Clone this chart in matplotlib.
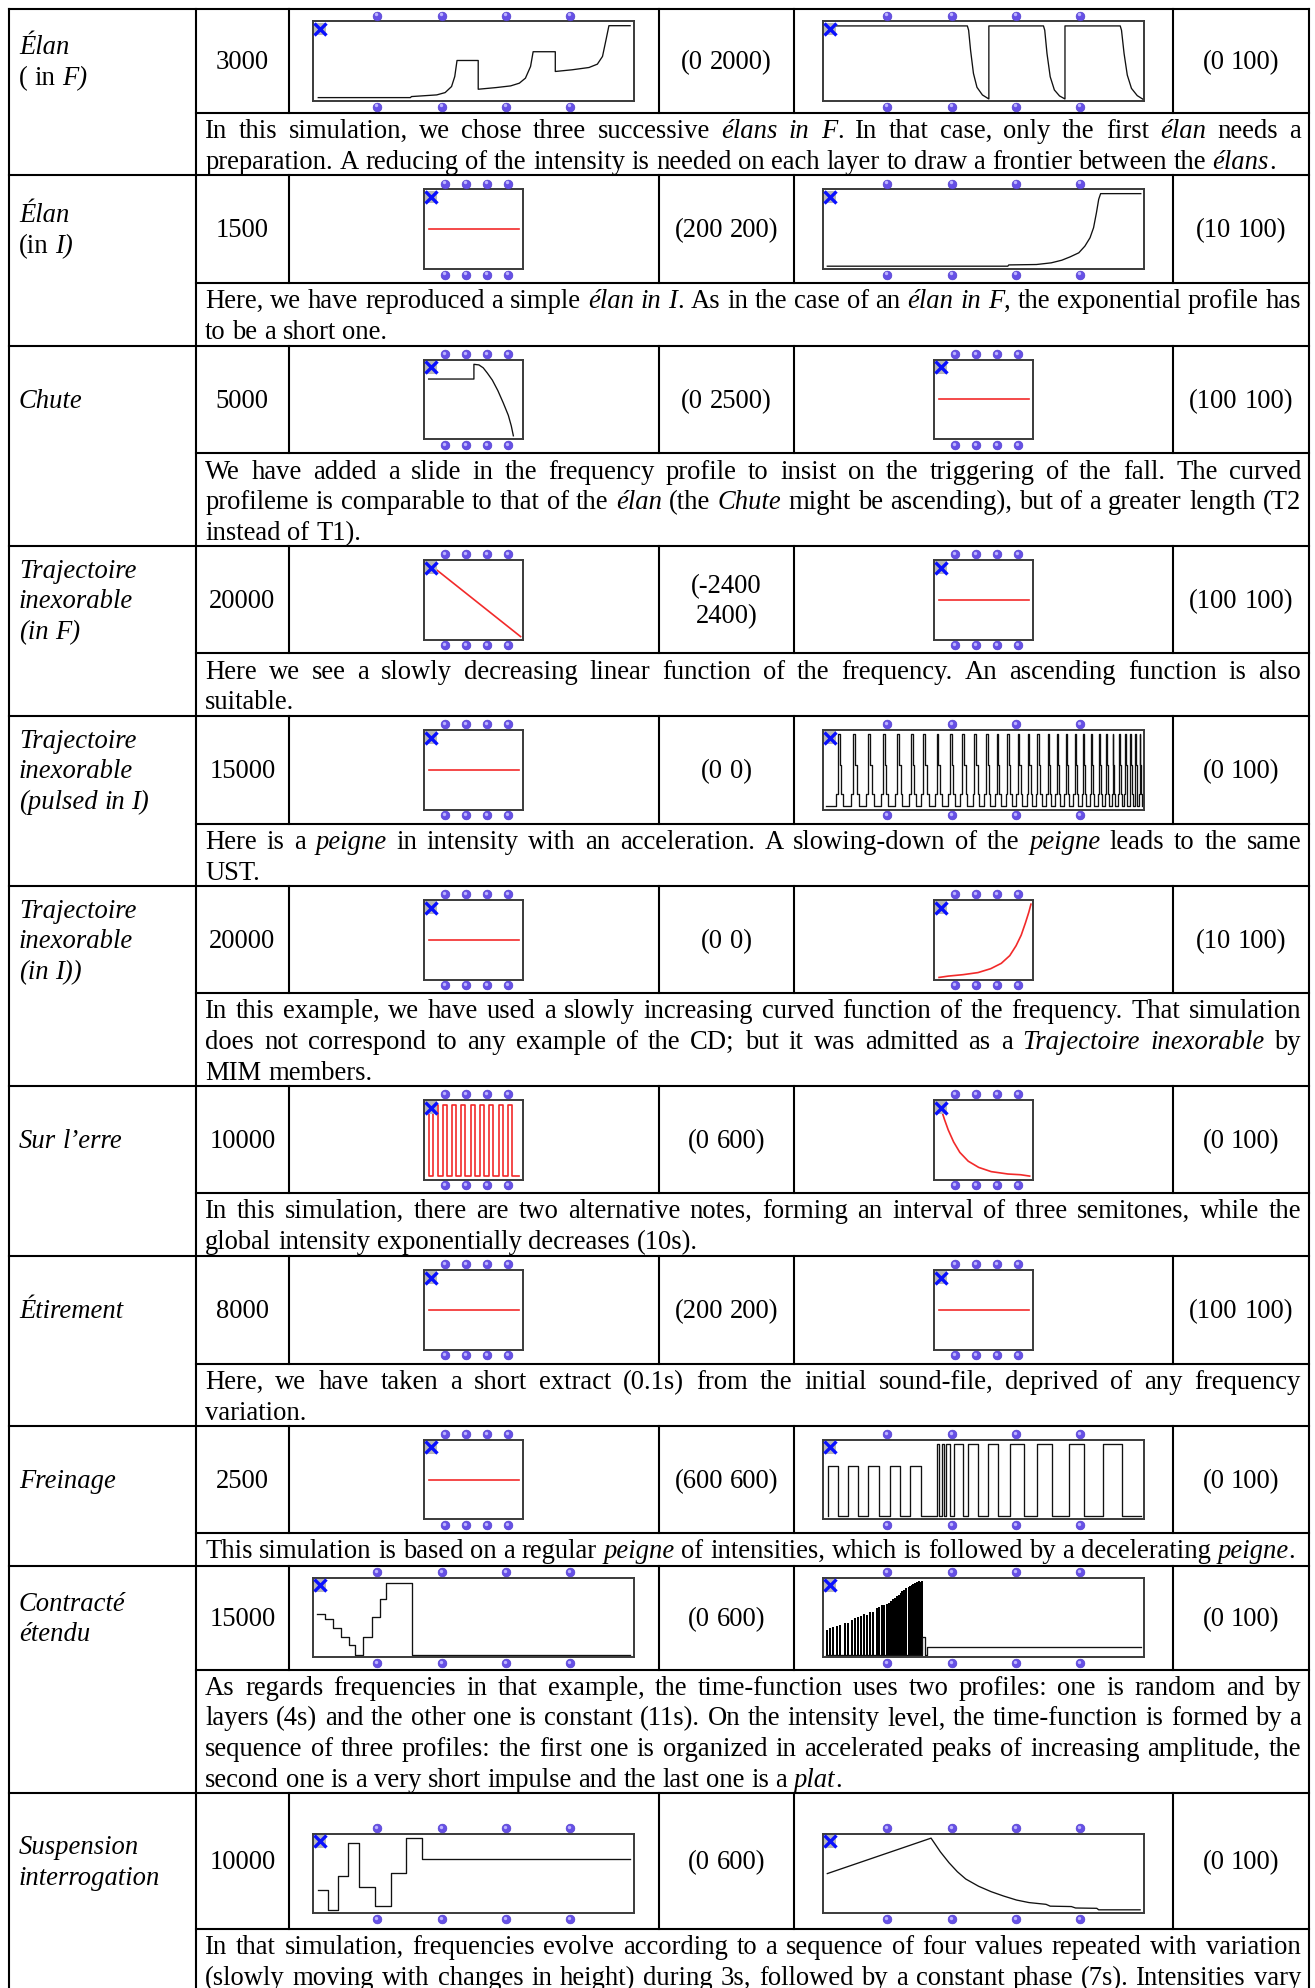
import numpy as np
import matplotlib
matplotlib.use('Agg')
import matplotlib.pyplot as plt
from matplotlib.patches import Rectangle

FONT = 'Liberation Serif'
FS = 19.2

# ---- table contents ----
labels = [["*Élan*", "( in *F)*"], ["*Élan*", "(in *I)*"], ["*Chute*"],
          ["*Trajectoire*", "*inexorable*", "*(in F)*"],
          ["*Trajectoire*", "*inexorable*", "*(pulsed in I)*"],
          ["*Trajectoire*", "*inexorable*", "*(in I))*"],
          ["*Sur l’erre*"], ["*Étirement*"], ["*Freinage*"],
          ["*Contracté*", "*étendu*"], ["*Suspension*", "*interrogation*"]]
durations = [3000, 1500, 5000, 20000, 15000, 20000, 10000, 8000, 2500, 15000, 10000]
freq_ranges = [["(0 2000)"], ["(200 200)"], ["(0 2500)"], ["(-2400", "2400)"], ["(0 0)"], ["(0 0)"],
               ["(0 600)"], ["(200 200)"], ["(600 600)"], ["(0 600)"], ["(0 600)"]]
int_ranges = ["(0 100)", "(10 100)", "(100 100)", "(100 100)", "(0 100)", "(10 100)",
              "(0 100)", "(100 100)", "(0 100)", "(0 100)", "(0 100)"]
comments = [
    ["In this simulation, we chose three successive *élans in F*. In that case, only the first *élan* needs a",
     "preparation. A reducing of the intensity is needed on each layer to draw a frontier between the *élans*."],
    ["Here, we have reproduced a simple *élan in I*. As in the case of an *élan in F*, the exponential profile has",
     "to be a short one."],
    ["We have added a slide in the frequency profile to insist on the triggering of the fall. The curved",
     "profileme is comparable to that of the *élan* (the *Chute* might be ascending), but of a greater length (T2",
     "instead of T1)."],
    ["Here we see a slowly decreasing linear function of the frequency. An ascending function is also",
     "suitable."],
    ["Here is a *peigne* in intensity with an acceleration. A slowing-down of the *peigne* leads to the same",
     "UST."],
    ["In this example, we have used a slowly increasing curved function of the frequency. That simulation",
     "does not correspond to any example of the CD; but it was admitted as a *Trajectoire inexorable* by",
     "MIM members."],
    ["In this simulation, there are two alternative notes, forming an interval of three semitones, while the",
     "global intensity exponentially decreases (10s)."],
    ["Here, we have taken a short extract (0.1s) from the initial sound-file, deprived of any frequency",
     "variation."],
    ["This simulation is based on a regular *peigne* of intensities, which is followed by a decelerating *peigne*."],
    ["As regards frequencies in that example, the time-function uses two profiles: one is random and by",
     "layers (4s) and the other one is constant (11s). On the intensity level, the time-function is formed by a",
     "sequence of three profiles: the first one is organized in accelerated peaks of increasing amplitude, the",
     "second one is a very short impulse and the last one is a *plat*."],
    ["In that simulation, frequencies evolve according to a sequence of four values repeated with variation",
     "(slowly moving with changes in height) during 3s, followed by a constant phase (7s). Intensities vary"],
]

# ---- profiles (time 0-100, value 0-100 of the box) ----
flat_x = [4.4, 95.6]
flat_y = [50, 50]

elan_f_freq_x = [1.6, 30.3, 30.6, 38.5, 41.1, 43.1, 44.1, 44.8, 51.4, 51.4, 57.0, 61.5, 64.2, 66.1,
                 67.7, 68.5, 75.4, 75.4, 80.6, 85.9, 88.5, 90.1, 91.2, 92.1, 98.7]
elan_f_freq_y = [4.2, 4.2, 5.5, 7.6, 10.5, 18.1, 30.7, 50.8, 50.8, 14.7, 16.8, 18.9, 22.3, 28.6,
                 43.3, 61.8, 61.8, 37.0, 39.1, 42.0, 46.2, 55.9, 76.9, 94.5, 94.5]
elan_f_int_x = [3.7, 44.9, 45.3, 45.9, 46.8, 47.9, 49.6, 51.6, 51.6, 68.6, 69.0, 69.7, 70.7, 72.0,
                73.6, 75.3, 75.3, 92.5, 92.9, 93.7, 94.7, 96.0, 97.8, 99.6]
elan_f_int_y = [94.2, 94.2, 88.8, 63.8, 34.6, 17.1, 7.5, 2.5, 94.2, 94.2, 88.8, 59.6, 30.4, 13.8,
                6.3, 2.5, 94.2, 94.2, 88.8, 59.6, 32.5, 15.8, 6.7, 2.1]
elan_i_int_x = [1.3, 57.5, 57.8, 66.4, 71.0, 74.3, 76.9, 79.6, 81.5, 83.1, 84.2, 85.1, 85.8, 86.4, 98.9]
elan_i_int_y = [3.4, 3.4, 5.0, 5.5, 7.6, 10.9, 15.1, 20.2, 28.6, 39.1, 51.7, 70.6, 87.4, 94.5, 94.5]
chute_freq_x = [4.3, 50.2, 50.2, 55.3, 59.6, 63.8, 68.9, 74.5, 80.0, 85.1, 88.1, 90.2]
chute_freq_y = [75.7, 75.7, 94.2, 93.4, 89.8, 83.2, 74.3, 61.1, 45.6, 30.1, 16.8, 4.4]
traj_f_freq_x = [4.0, 97.5]
traj_f_freq_y = [96.0, 4.0]
pulsed_starts = [4.6, 9.4, 14.0, 18.6, 23.0, 27.3, 31.2, 35.3, 39.4, 43.3, 47.1, 50.7, 54.0, 57.3,
                 60.6, 63.8, 66.7, 69.9, 72.7, 75.5, 78.3, 80.9, 83.4, 85.8, 88.0, 90.1, 92.1,
                 94.0, 95.7, 97.2, 98.6]
traj_i_int_x = [4.7, 14.2, 29.2, 44.2, 57.1, 67.8, 76.4, 82.8, 88.0, 92.3, 95.7, 97.9]
traj_i_int_y = [2.7, 4.4, 6.2, 8.8, 13.7, 20.4, 30.1, 42.5, 55.8, 71.2, 84.5, 94.7]
erre_starts = [9.2, 18.4, 27.6, 37.2, 46.9, 56.5, 65.7, 75.3, 84.5]
erre_ends = [13.4, 22.6, 32.2, 41.4, 51.0, 60.7, 69.9, 79.5, 88.7]
erre_int_x = [6.8, 10.2, 14.0, 19.5, 25.8, 34.3, 44.9, 57.6, 74.6, 87.3, 96.6]
erre_int_y = [88.6, 75.5, 62.4, 47.2, 34.1, 23.1, 15.3, 10.0, 7.0, 6.1, 4.4]
frein_starts = [1.4, 7.8, 14.1, 20.7, 26.9, 35.5, 36.9, 38.3, 40.8, 45.2, 51.3, 58.2, 66.6, 76.5, 87.2]
frein_ends = [4.5, 11.0, 17.5, 24.0, 30.4, 36.2, 37.7, 39.5, 43.5, 48.3, 54.6, 62.4, 71.3, 81.2, 93.0]
frein_levels = [67.0] * 5 + [94.5] * 10
contr_freq_x = [1.3, 3.6, 3.6, 6.2, 6.2, 8.6, 8.6, 11.2, 11.2, 13.0, 13.0, 15.6, 15.6, 18.2, 18.2,
                20.8, 20.8, 22.8, 22.8, 30.9, 30.9, 98.7]
contr_freq_y = [53.9, 53.9, 47.9, 47.9, 36.5, 36.5, 25.1, 25.1, 15.1, 15.1, 3.2, 3.2, 25.1, 25.1, 50.2,
                50.2, 73.1, 73.1, 93.6, 93.6, 3.2, 3.2]
contr_peak_x = [1.25, 2.1, 3.1, 4.2, 5.2, 6.8, 7.8, 9.1, 9.9, 10.9, 11.8, 12.8, 13.8, 14.6, 15.6,
                16.7, 17.4, 18.2, 19.1, 19.8, 20.5, 21.1, 21.9, 22.4, 23.0, 23.6, 24.3, 24.7, 25.3,
                25.9, 26.6, 27.1, 27.6, 28.1, 28.6, 29.2, 29.7, 30.3, 30.7]
contr_peak_y = [34.3, 36.4, 38.6, 39.8, 40.7, 43.6, 42.8, 47.0, 49.2, 51.3, 52.5, 54.2, 53.4, 56.8,
                57.6, 61.9, 62.7, 65.3, 66.1, 66.9, 68.2, 70.3, 73.7, 74.6, 76.7, 78.8, 80.9, 83.1,
                85.2, 87.3, 88.1, 89.4, 91.5, 92.4, 93.6, 94.9, 95.8, 94.9, 95.8]
contr_tail_x = [1.0, 30.9, 30.9, 31.8, 31.8, 32.4, 32.4, 99.0]
contr_tail_y = [2.5, 2.5, 25.8, 25.8, 2.5, 2.5, 13.1, 13.1]
susp_freq_x = [1.4, 4.5, 4.5, 7.6, 7.6, 10.9, 10.9, 14.4, 14.4, 19.2, 19.2, 24.2, 24.2, 28.9, 28.9,
               34.0, 34.0, 98.7]
susp_freq_y = [29.5, 29.5, 4.5, 4.5, 47.3, 47.3, 88.6, 88.6, 32.7, 32.7, 9.1, 9.1, 50.9, 50.9, 94.1,
               94.1, 68.2, 68.2]
susp_int_x = [1.3, 33.6, 34.6, 36.5, 39.2, 41.8, 44.4, 48.4, 52.3, 56.2, 60.2, 64.1, 69.4, 70.7,
              77.3, 78.6, 85.2, 85.8, 98.7]
susp_int_y = [50.0, 94.5, 88.6, 77.3, 63.6, 52.3, 43.2, 34.1, 27.3, 21.8, 16.8, 13.6, 11.4, 9.1,
              8.6, 6.8, 6.4, 4.5, 4.5]

# shape of one intensity spike: (offset in time, level or None for base)
SPIKE = [(-0.6, None), (-0.6, 20), (0, 20), (0, 94.5), (0.6, 94.5), (0.6, 56),
         (1.1, 56), (1.1, 20), (1.7, 20), (1.7, None)]


def pulse_line(starts, ends, levels, base, x0, x1, first=None):
    xs, ys = [x0], [base if first is None else first]
    if first is not None:
        xs.append(x0)
        ys.append(base)
    for s, e, l in zip(starts, ends, levels):
        xs += [s, s, e, e]
        ys += [base, l, l, base]
    xs.append(x1)
    ys.append(base)
    return xs, ys


def spike_line(starts, base, x0, x1):
    xs, ys = [x0], [base]
    for k, s in enumerate(starts):
        gap = starts[k + 1] - s if k + 1 < len(starts) else s - starts[k - 1]
        f = min(1.0, gap / 4.0)
        for dx, lv in SPIKE:
            xs.append(s + dx * f)
            ys.append(base if lv is None else lv)
    xs.append(x1)
    ys.append(base)
    return xs, ys


RED = '#f22a2a'
BLK = '#111111'
pulsed = spike_line(pulsed_starts, 4.6, 1.0, 99.2)
erre = pulse_line(erre_starts, erre_ends, [94] * len(erre_starts), 4, 4.2, 96.2, first=94)
frein = pulse_line(frein_starts, frein_ends, frein_levels, 3.8, 1.4, 99.0)

# (x, y, colour) per widget, None for the peaks chart drawn with bars
freq_plots = [(elan_f_freq_x, elan_f_freq_y, BLK), (flat_x, flat_y, RED), (chute_freq_x, chute_freq_y, BLK),
              (traj_f_freq_x, traj_f_freq_y, RED), (flat_x, flat_y, RED), (flat_x, flat_y, RED),
              (erre[0], erre[1], RED), (flat_x, flat_y, RED), (flat_x, flat_y, RED),
              (contr_freq_x, contr_freq_y, BLK), (susp_freq_x, susp_freq_y, BLK)]
int_plots = [(elan_f_int_x, elan_f_int_y, BLK), (elan_i_int_x, elan_i_int_y, BLK), (flat_x, flat_y, RED),
             (flat_x, flat_y, RED), (pulsed[0], pulsed[1], BLK), (traj_i_int_x, traj_i_int_y, RED),
             (erre_int_x, erre_int_y, RED), (flat_x, flat_y, RED), (frein[0], frein[1], BLK),
             None, (susp_int_x, susp_int_y, BLK)]
freq_wide = [1, 0, 0, 0, 0, 0, 0, 0, 0, 1, 1]
int_wide = [1, 1, 0, 0, 1, 0, 0, 0, 1, 1, 1]

# ---- layout (units of a 1040 x 1572.5 page) ----
W, H = 1040.0, 1572.5
row_tops = [7.1, 138.4, 273.3, 432.2, 566.3, 701.0, 859.2, 993.4, 1128.0, 1238.4, 1418.0]
chart_bots = [89.6, 224.0, 358.7, 516.9, 651.7, 785.7, 943.9, 1078.7, 1212.6, 1320.6, 1526.0]
cols = [7, 155, 228.3, 521, 628, 928, 1035]
PITCH = 24.4

fig = plt.figure(figsize=(13.15, 19.88), dpi=100)
bg = fig.add_axes([0, 0, 1, 1])
bg.set_xlim(0, W)
bg.set_ylim(H, 0)
bg.axis('off')
top = fig.add_axes([0, 0, 1, 1], zorder=5)
top.set_xlim(0, W)
top.set_ylim(H, 0)
top.axis('off')
top.patch.set_alpha(0)
renderer = fig.canvas.get_renderer()
U = W / 1315.0


def twidth(s, it):
    t = bg.text(0, 0, s, fontsize=FS, family=FONT, style='italic' if it else 'normal')
    w = t.get_window_extent(renderer).width * U
    t.remove()
    return w


SPACE = twidth('a a', False) - twidth('aa', False)


def parse(line):
    words, cur, buf, it = [], [], '', False
    for ch in line:
        if ch == '*':
            if buf:
                cur.append((buf, it))
                buf = ''
            it = not it
        elif ch == ' ':
            if buf:
                cur.append((buf, it))
                buf = ''
            if cur:
                words.append(cur)
                cur = []
        else:
            buf += ch
    if buf:
        cur.append((buf, it))
    if cur:
        words.append(cur)
    return words


def draw_line(line, x0, y, x1=None, ha='left'):
    words = parse(line)
    widths = [sum(twidth(t, i) for t, i in w) for w in words]
    if x1 is not None and len(words) > 1:
        gap = (x1 - x0 - sum(widths)) / (len(words) - 1)
    else:
        gap = SPACE
    total = sum(widths) + gap * (len(words) - 1)
    x = x0 - total / 2 if ha == 'center' else x0
    for w, wd in zip(words, widths):
        xx = x
        for t, i in w:
            bg.text(xx, y, t, fontsize=FS, family=FONT, style='italic' if i else 'normal',
                    va='baseline', ha='left', color='black')
            xx += twidth(t, i)
        x += wd + gap


def widget(cx, cy, wide, plot):
    bw = 254 if wide else 78
    bh = 63
    x0, y0 = cx - bw / 2, cy - bh / 2
    ax = fig.add_axes([x0 / W, 1 - (y0 + bh) / H, bw / W, bh / H], zorder=3)
    ax.set_xlim(0, 100)
    ax.set_ylim(0, 100)
    ax.set_xticks([])
    ax.set_yticks([])
    for sp in ax.spines.values():
        sp.set_color('#3a3a3a')
        sp.set_linewidth(1.4)
    if plot is None:
        ax.bar(contr_peak_x, [p - 2.5 for p in contr_peak_y], bottom=2.5, width=0.62,
               color='black', linewidth=0)
        ax.plot(contr_tail_x, contr_tail_y, color=BLK, lw=0.95)
    else:
        xs, ys, c = plot
        ax.plot(xs, ys, color=c, lw=1.2 if c == RED else 0.95)
    # handles above and below the box
    fr = [0.2, 0.4, 0.6, 0.8] if wide else [0.205, 0.42, 0.632, 0.846]
    dx = [x0 + f * bw for f in fr]
    for yy in (y0 - 4.5, y0 + bh + 4.5):
        top.scatter(dx, [yy] * 4, s=40, color='#6650e6', edgecolor='#4a38c8', linewidth=0.4, zorder=6)
        top.scatter([d - 0.8 for d in dx], [yy - 1.0] * 4, s=6, color='#bdb4ff', linewidth=0, zorder=7)
    top.add_patch(Rectangle((x0 + 0.3, y0 + 1), 10, 10, facecolor='#b8b8b8', edgecolor='none', zorder=6))
    top.plot([x0 + 5.3], [y0 + 6], marker='x', ms=8, mew=2.4, color='#0a10ff', zorder=7)


lw = 1.5
for r in range(11):
    yt, yc = row_tops[r], chart_bots[r]
    bg.plot([cols[0], cols[-1]], [yt, yt], color='black', lw=lw, solid_capstyle='projecting')
    bg.plot([cols[1], cols[-1]], [yc, yc], color='black', lw=lw)
    for cx in cols[2:-1]:
        bg.plot([cx, cx], [yt, yc], color='black', lw=lw)
    mid = (yt + yc) / 2
    # label column
    n = len(labels[r])
    for i, s in enumerate(labels[r]):
        draw_line(s, 15, mid + 6.6 + (i - (n - 1) / 2) * 24.2)
    draw_line(str(durations[r]), (cols[1] + cols[2]) / 2, mid + 6.6, ha='center')
    n = len(freq_ranges[r])
    for i, s in enumerate(freq_ranges[r]):
        draw_line(s, (cols[3] + cols[4]) / 2, mid + 6.6 + (i - (n - 1) / 2) * 24.2, ha='center')
    draw_line(int_ranges[r], (cols[5] + cols[6]) / 2, mid + 6.6, ha='center')
    # profiles
    wy = 1482 if r == 10 else mid
    widget((cols[2] + cols[3]) / 2, wy, freq_wide[r], freq_plots[r])
    widget((cols[4] + cols[5]) / 2, wy, int_wide[r], int_plots[r])
    # comment
    lines = comments[r]
    for i, s in enumerate(lines):
        last = (i == len(lines) - 1) and r < 10
        draw_line(s, 162.3, yc + 19.8 + i * PITCH, x1=None if last else 1029)

for cx in (cols[0], cols[1], cols[-1]):
    bg.plot([cx, cx], [row_tops[0], H + 5], color='black', lw=lw, solid_capstyle='projecting')

fig.savefig('out.png', dpi=100)
